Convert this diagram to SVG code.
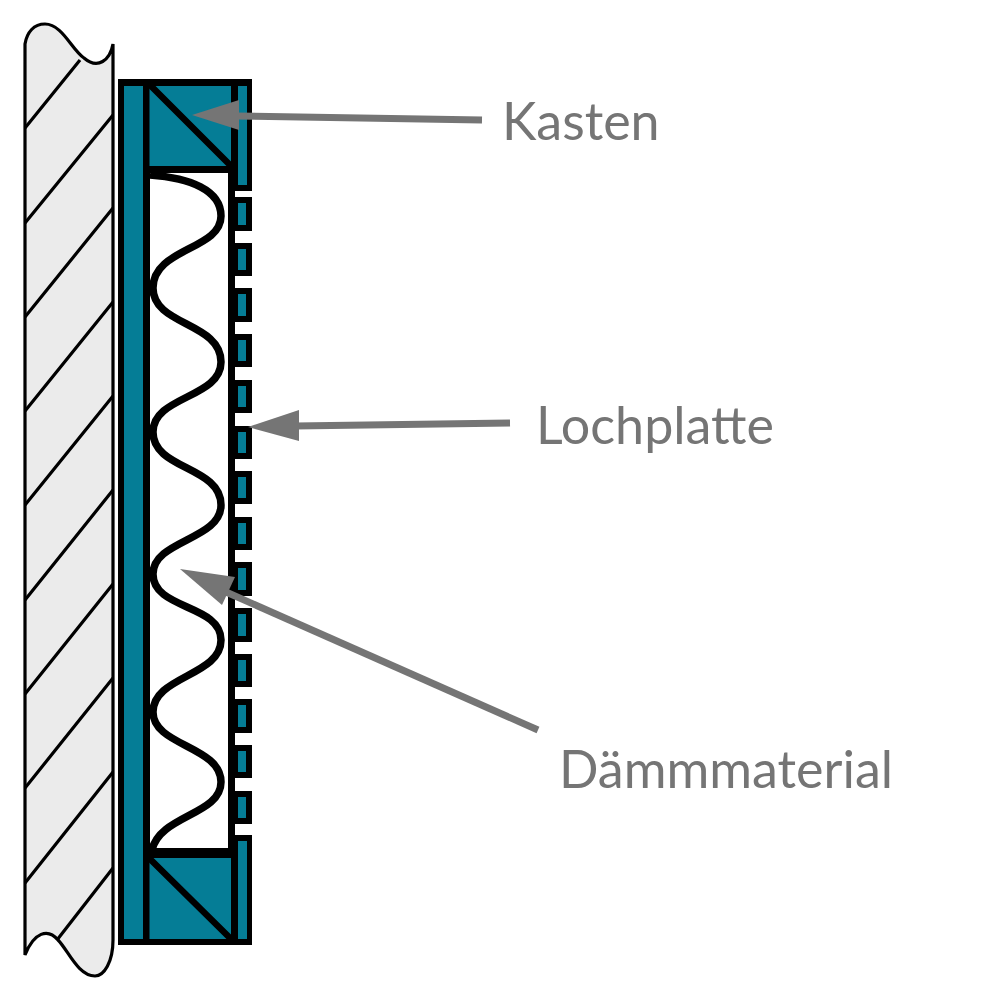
<svg xmlns="http://www.w3.org/2000/svg" width="1000" height="1000" viewBox="0 0 1000 1000">
<style>
.b{fill:#000}
.t{fill:#057d96}
.w{stroke:#000;stroke-width:3.2;fill:none}
.a{stroke:#757575;stroke-width:7;fill:none}
.h{fill:#757575}
.tab{fill:#057d96;stroke:#000;stroke-width:6}
text{font-family:"Lato","Liberation Sans",sans-serif;fill:#757575;font-size:52px}
</style>
<rect width="1000" height="1000" fill="#fff"/>
<g id="wand">
<path d="M25 44C27 32 34 24 45 24C62 24 72 50 84 58C98 70 110 60 113 44V940C113 962 104 976 95 976C78 976 68 950 58 940C48 928 34 932 25 955Z" fill="#ebebeb" stroke="#000" stroke-width="3.2"/>
<path class="w" d="M25 128L80 60M25 223L113 115M25 317L113 208M25 411L113 302M25 505L113 396M25 600L113 490M25 694L113 584M25 788L113 678M25 883L113 772M57 940L113 868"/>
</g>
<g id="kasten">
<rect class="b" x="118" y="79" width="134" height="112"/>
<rect class="b" x="118" y="835" width="134" height="110"/>
<rect class="b" x="118" y="79" width="32" height="866"/>
<rect x="150" y="173" width="85" height="675" fill="#fff"/>
<rect x="235" y="191" width="17" height="644" fill="#fff"/>
<rect class="t" x="124" y="86" width="19" height="853"/>
<rect class="t" x="149.500" y="86" width="81.500" height="80"/>
<rect class="t" x="238" y="86" width="9" height="99"/>
<rect class="t" x="149.500" y="858" width="81.500" height="81"/>
<rect class="t" x="238" y="841" width="9" height="98"/>
<path stroke="#000" stroke-width="6.500" d="M149 84L232 167M149 858L232 940"/>
</g>
<g id="lochplatte">
<rect class="b" x="228" y="173" width="7" height="675"/>
<rect class="tab" x="235" y="200" width="14" height="28"/>
<rect class="tab" x="235" y="246" width="14" height="27"/>
<rect class="tab" x="235" y="291" width="14" height="28"/>
<rect class="tab" x="235" y="337" width="14" height="27"/>
<rect class="tab" x="235" y="383" width="14" height="27"/>
<rect class="tab" x="235" y="429" width="14" height="27"/>
<rect class="tab" x="235" y="474" width="14" height="27"/>
<rect class="tab" x="235" y="520" width="14" height="27"/>
<rect class="tab" x="235" y="565" width="14" height="28"/>
<rect class="tab" x="235" y="611" width="14" height="28"/>
<rect class="tab" x="235" y="657" width="14" height="27"/>
<rect class="tab" x="235" y="702" width="14" height="28"/>
<rect class="tab" x="235" y="748" width="14" height="27"/>
<rect class="tab" x="235" y="794" width="14" height="27"/>
</g>
<g id="kasten-innen">
<rect class="b" x="150" y="166" width="81" height="7"/>
<rect class="b" x="150" y="848" width="81" height="10"/>
</g>
<g id="daemmung">
<path d="M150 175C190 178 221 190 221 216C221 250 153 248 153 288C153 326 221 322 221 362C221 398 153 396 153 432C153 470 221 466 221 505C221 540 153 540 153 574C153 610 221 604 221 640C221 676 153 676 153 712C153 746 221 746 221 782C221 815 160 815 152 850" fill="none" stroke="#000" stroke-width="7.500"/>
</g>
<g id="connectors">
<path class="a" d="M235 116L482 120"/>
<polygon class="h" points="192,115 239,100 239,130"/>
<path class="a" d="M295 426L510 423"/>
<polygon class="h" points="248,427 299,410 299,441"/>
<path class="a" d="M226 592L538 730"/>
<polygon class="h" points="180,569 235,577 222,605"/>
</g>
<g id="labels">
<text x="502" y="140">Kasten</text>
<text x="536" y="444">Lochplatte</text>
<text x="559" y="788">Dämmmaterial</text>
</g>
</svg>
